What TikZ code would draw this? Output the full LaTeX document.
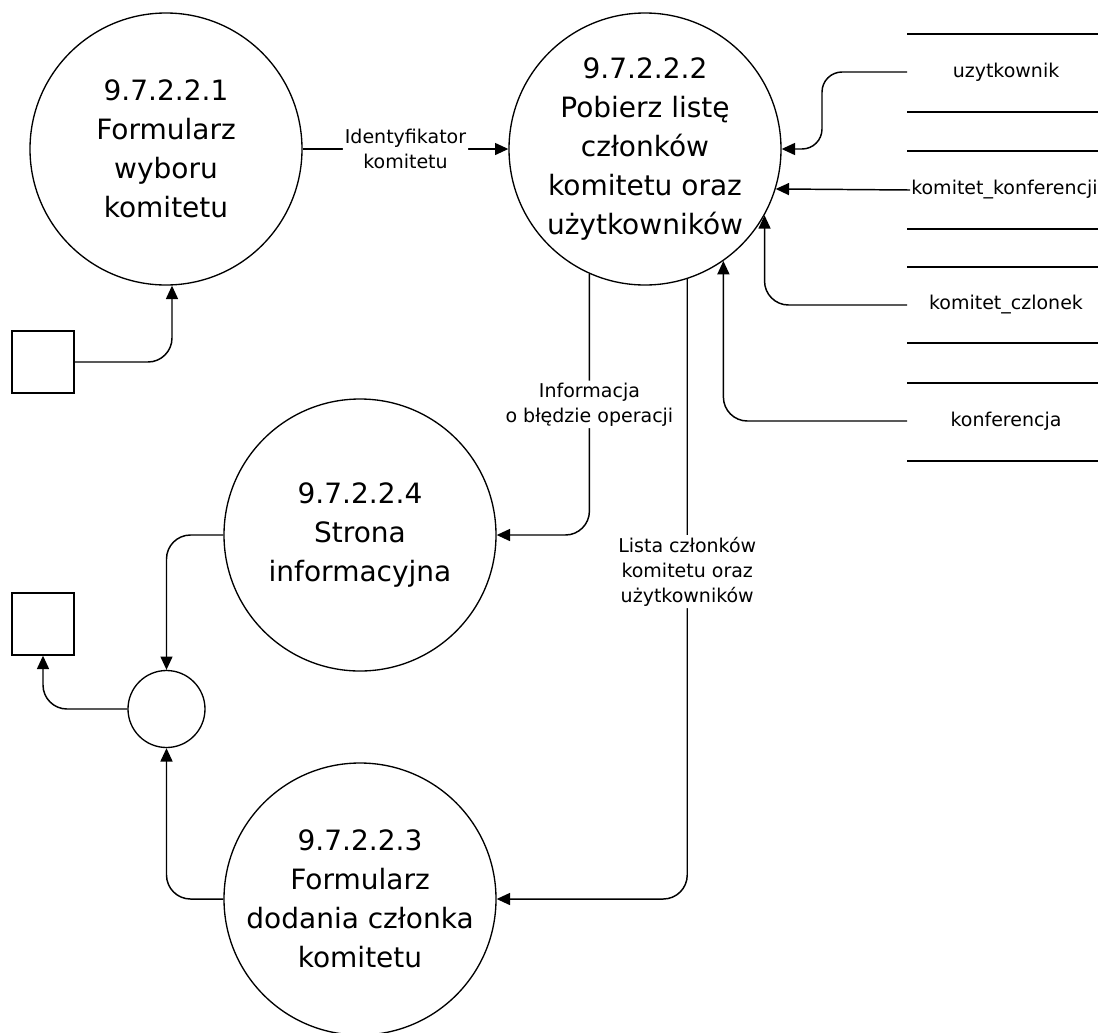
\documentclass[tikz,border=0pt]{standalone}
\usepackage{fontspec}
\setmainfont{DejaVu Sans}
\usetikzlibrary{arrows.meta,calc}
\begin{document}
\begin{tikzpicture}[x=0.75pt,y=-0.75pt,
  proc/.style={circle,draw,line width=1pt,minimum size=204pt,inner sep=0pt},
  junc/.style={circle,draw,line width=1pt,minimum size=57.75pt,inner sep=0pt},
  big/.style={align=center,inner sep=0pt,font=\fontsize{21}{29.25}\selectfont},
  lbl/.style={align=center,fill=white,inner sep=1.5pt,font=\fontsize{14.25}{18.75}\selectfont},
  storelbl/.style={inner sep=0pt,font=\fontsize{14.25}{18.75}\selectfont},
  ext/.style={draw,line width=1pt,minimum size=46.5pt,inner sep=0pt},
  storeline/.style={line width=1pt},
  flow/.style={draw,line width=1.1pt,-{Triangle[length=10pt,width=9pt]},rounded corners=18pt},
]
\useasboundingbox (0,0) rectangle (1098,1032);

% processes
\node[proc] (c1) at (166,149) {};
\node[proc] (c2) at (645,149) {};
\node[proc] (c4) at (360,535) {};
\node[proc] (c3) at (360,899) {};
\node[junc] (sc) at (166.5,709) {};
\node[big] (t1) at (c1) {9.7.2.2.1\\Formularz\\wyboru\\komitetu};
\node[big] (t2) at (c2) {9.7.2.2.2\\Pobierz listę\\członków\\komitetu oraz\\użytkowników};
\node[big] (t4) at (c4) {9.7.2.2.4\\Strona\\informacyjna};
\node[big] (t3) at (c3) {9.7.2.2.3\\Formularz\\dodania członka\\komitetu};

% external entities
\node[ext] (b1) at (43,362) {};
\node[ext] (b2) at (43,624) {};

% data stores
\draw[storeline] (907,34) -- (1098,34);
\draw[storeline] (907,112) -- (1098,112);
\draw[storeline] (907,151) -- (1098,151);
\draw[storeline] (907,229) -- (1098,229);
\draw[storeline] (907,267) -- (1098,267);
\draw[storeline] (907,343) -- (1098,343);
\draw[storeline] (907,383) -- (1098,383);
\draw[storeline] (907,461) -- (1098,461);
\node[storelbl] (s1) at (1006,72) {uzytkownik};
\node[storelbl,anchor=west] (s2) at (911,190) {komitet\_konferencji};
\node[storelbl] (s3) at (1006,305) {komitet\_czlonek};
\node[storelbl] (s4) at (1006,421) {konferencja};
\coordinate (s1w) at (907,72);
\coordinate (s2w) at (910,190);
\coordinate (s3w) at (907,305);
\coordinate (s4w) at (907,421);

% flows
\draw[flow] (c1) -- node[lbl] (l1) {Identyfikator\\komitetu} (c2);
\draw[flow] (b1.east) -| ([xshift=4.5pt]c1.south);
\draw[flow,rounded corners=15pt] (s1w) -- (822,72) -- (822,149) -- (c2.east);
\draw[flow] (s2w) -- (c2.-17.55);
\draw[flow] (s3w) -| (c2.-29.8);
\draw[flow] (s4w) -| (c2.-55);
\draw[flow] (c2.-114.8) |- node[lbl,pos=0.25] (l2) {Informacja\\o błędzie operacji} (c4.east);
\draw[flow] (c2.-72) |- node[lbl,pos=0.236] (l3) {Lista członków\\komitetu oraz\\użytkowników} (c3.east);
\draw[flow] (c4.west) -| (sc.north);
\draw[flow] (c3.west) -| (sc.south);
\draw[flow] (sc.west) -| (b2.south);
\end{tikzpicture}
\end{document}
